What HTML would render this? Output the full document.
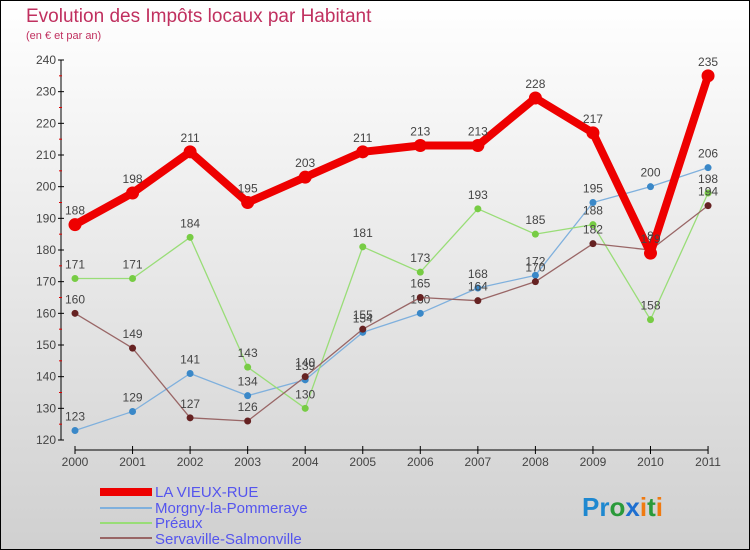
<!DOCTYPE html>
<html><head><meta charset="utf-8"><style>
body{margin:0}
#c{width:750px;height:550px;position:relative;box-sizing:border-box;border:1px solid #000;background:linear-gradient(#fff,#d0d0d0);font-family:"Liberation Sans",sans-serif;overflow:hidden}
</style></head><body>
<div id="c">
<svg id="s" width="750" height="550" style="position:absolute;left:-1px;top:-1px">
<text x="26" y="22" font-size="19" fill="#c0305f">Evolution des Impôts locaux par Habitant</text>
<text x="26" y="39" font-size="11" fill="#c0305f">(en € et par an)</text>
<g id="axes"></g><g id="series"></g>
<g font-size="15" fill="#5555ee">
<rect x="100" y="488" width="52" height="8" fill="#e00"/>
<text x="155" y="497">LA VIEUX-RUE</text>
<rect x="100" y="507" width="52" height="2" fill="#7fb0dd"/>
<text x="155" y="513">Morgny-la-Pommeraye</text>
<rect x="100" y="522" width="52" height="2" fill="#99dd77"/>
<text x="155" y="528">Préaux</text>
<rect x="100" y="537" width="52" height="2" fill="#996666"/>
<text x="155" y="544">Servaville-Salmonville</text>
</g>
<text x="582" y="516" font-size="26" font-weight="bold"><tspan fill="#1e88d0">Pr</tspan><tspan fill="#2a9a3a">o</tspan><tspan fill="#1e6fd0">x</tspan><tspan fill="#f07a10">i</tspan><tspan fill="#2a9a3a">t</tspan><tspan fill="#f07a10">i</tspan></text>
</svg>
</div>
<script>
const years=["2000","2001","2002","2003","2004","2005","2006","2007","2008","2009","2010","2011"];
const yTicks=[120,130,140,150,160,170,180,190,200,210,220,230,240];
const laVieuxRue=[188,198,211,195,203,211,213,213,228,217,179,235];
const morgny=[123,129,141,134,139,154,160,168,172,195,200,206];
const preaux=[171,171,184,143,130,181,173,193,185,188,158,198];
const servaville=[160,149,127,126,140,155,165,164,170,182,180,194];
const NS="http://www.w3.org/2000/svg";
const X=i=>75+i*57.55, Y=v=>440-(v-120)*3.1667;
function mk(t,a,p){const e=document.createElementNS(NS,t);for(const k in a)e.setAttribute(k,a[k]);p.appendChild(e);return e;}
const ax=document.getElementById('axes'),sg=document.getElementById('series');
let e=mk('line',{x1:61,y1:Y(240),x2:61,y2:Y(120),stroke:'#000'},ax);


e=mk('line',{x1:X(0),y1:450,x2:X(11),y2:450,stroke:'#000'},ax);


yTicks.forEach(v=>{mk('line',{x1:58,x2:64,y1:Y(v),y2:Y(v),stroke:'#000'},ax);
 if(v<240)mk('line',{x1:59,x2:62,y1:Y(v+5),y2:Y(v+5),stroke:'#d00'},ax);
 const t=mk('text',{x:56,y:Y(v)+4,'text-anchor':'end','font-size':12,fill:'#444'},ax);t.textContent=v;
 
 });
years.forEach((y,i)=>{mk('line',{x1:X(i),x2:X(i),y1:446,y2:454,stroke:'#000'},ax);
 const t=mk('text',{x:X(i),y:466,'text-anchor':'middle','font-size':12,fill:'#444'},ax);t.textContent=y;
 
 });
function series(d,col,pt,w,r,name){
 const p=mk('polyline',{points:d.map((v,i)=>X(i)+','+Y(v)).join(' '),fill:'none',stroke:col,'stroke-width':w,'stroke-linejoin':'round'},sg);
 
 
 d.forEach((v,i)=>{const c=mk('circle',{cx:X(i),cy:Y(v),r:r,fill:pt},sg);
  
  
  const t=mk('text',{x:X(i),y:Y(v)-10,'text-anchor':'middle','font-size':12,fill:'#444'},sg);t.textContent=v;
  
  });
}
series(morgny,'#7fb0dd','#3a88c8',1.3,3.5,'morgny');
series(preaux,'#99dd77','#77cc44',1.3,3.5,'preaux');
series(servaville,'#996666','#662222',1.3,3.5,'servaville');
series(laVieuxRue,'#e00','#e00',8,6.5,'la-vieux-rue');
</script>
</body></html>
